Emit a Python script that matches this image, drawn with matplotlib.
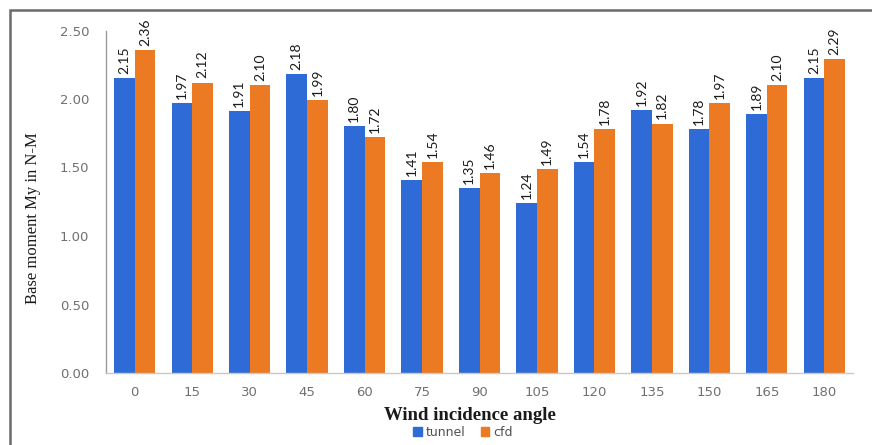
import matplotlib
matplotlib.use("Agg")
import matplotlib.pyplot as plt
from matplotlib.patches import Rectangle, Patch
import numpy as np

angles = ["0", "15", "30", "45", "60", "75", "90", "105", "120", "135", "150", "165", "180"]
tunnel = [2.15, 1.97, 1.91, 2.18, 1.80, 1.41, 1.35, 1.24, 1.54, 1.92, 1.78, 1.89, 2.15]
cfd = [2.36, 2.12, 2.10, 1.99, 1.72, 1.54, 1.46, 1.49, 1.78, 1.82, 1.97, 2.10, 2.29]
y_ticks = [0.0, 0.5, 1.0, 1.5, 2.0, 2.5]

blue = "#2E6BD6"
orange = "#EC7A22"
tick_gray = "#707070"

W, H = 872, 445
fig = plt.figure(figsize=(W / 100, H / 100), dpi=100)
fig.patch.set_facecolor("white")

# outer frame (left and top edges visible)
fig.add_artist(Rectangle((10 / W, -0.05), 1.2, 1 - 10 / H + 0.05,
                         transform=fig.transFigure, fill=False,
                         edgecolor="#6a6a6a", linewidth=1.8))

ax = fig.add_axes([106 / W, 1 - 373 / H, (853 - 106) / W, (373 - 30.5) / H])
x = np.arange(len(angles))
bw = 0.36
b1 = ax.bar(x - bw / 2, tunnel, bw, color=blue, label="tunnel")
b2 = ax.bar(x + bw / 2, cfd, bw, color=orange, label="cfd")

for bars, vals in ((b1, tunnel), (b2, cfd)):
    for r, v in zip(bars, vals):
        ax.annotate(f"{v:.2f}", (r.get_x() + r.get_width() / 2, v),
                    xytext=(0, 3), textcoords="offset points",
                    rotation=90, ha="center", va="bottom",
                    fontsize=10, color="#1a1a1a", family="Lato")

ax.set_xlim(-0.5, len(angles) - 0.5)
ax.set_ylim(0, 2.5)
ax.set_yticks(y_ticks)
ax.set_yticklabels([f"{t:.2f}" for t in y_ticks])
ax.set_xticks(x)
ax.set_xticklabels(angles)
ax.tick_params(axis="both", length=0, colors=tick_gray, labelsize=9.5)
ax.tick_params(axis="y", pad=12)
ax.tick_params(axis="x", pad=9)

for s in ("top", "right"):
    ax.spines[s].set_visible(False)
ax.spines["left"].set_color("#9a9a9a")
ax.spines["bottom"].set_color("#c8c8c8")
ax.spines["left"].set_linewidth(1.0)
ax.spines["bottom"].set_linewidth(1.0)

fig.text(33 / W, 1 - 218 / H, "Base moment My in N-M", rotation=90,
         ha="center", va="center", family="Liberation Serif", fontsize=12,
         color="#1a1a1a")
fig.text(470 / W, 1 - 416 / H, "Wind incidence angle", ha="center",
         va="center", family="Liberation Serif", fontsize=13.5,
         fontweight="bold", color="#1a1a1a")

handles = [Patch(color=blue, label="tunnel"), Patch(color=orange, label="cfd")]
fig.legend(handles=handles, loc="center", bbox_to_anchor=(463 / W, 1 - 432 / H),
           ncol=2, frameon=False, fontsize=9, handlelength=0.7,
           handleheight=0.7, handletextpad=0.3, columnspacing=1.2,
           labelcolor="#505050")

fig.savefig("out.png", dpi=100)
